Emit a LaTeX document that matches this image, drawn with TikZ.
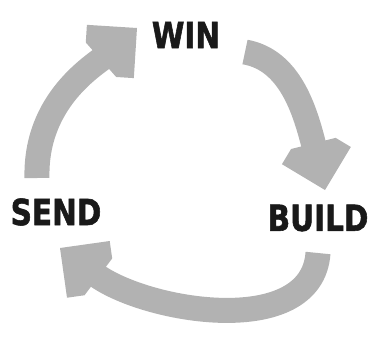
\documentclass[tikz,border=0pt]{standalone}
\usepackage{fontspec}
\newfontfamily\stagefont{DejaVu Sans}[UprightFont=* Bold, FakeStretch=0.82, FakeBold=1.5]
\usepackage{tikz}
\usetikzlibrary{arrows.meta}

\pgfdeclarearrow{
	name = Blunt,
	parameters = {\the\pgfarrowlength,\the\pgfarrowwidth},
	setup code = {
		\pgfarrowssettipend{0pt}
		\pgfarrowssetlineend{-.9\pgfarrowlength}
		\pgfarrowssetbackend{-\pgfarrowlength}
		\pgfarrowssetvisualbackend{-\pgfarrowlength}
		\pgfarrowshullpoint{0pt}{0pt}
		\pgfarrowsupperhullpoint{-.5\pgfarrowwidth}{.5\pgfarrowwidth}
		\pgfarrowssavethe\pgfarrowlength
		\pgfarrowssavethe\pgfarrowwidth
	},
	drawing code = {
		\pgfpathmoveto{\pgfpoint{0pt}{0pt}}
		\pgfpathlineto{\pgfpoint{-.5\pgfarrowwidth}{.5\pgfarrowwidth}}
		\pgfpathlineto{\pgfpoint{-\pgfarrowlength}{\pgfarrowwidth-\pgfarrowlength}}
		\pgfpathlineto{\pgfpoint{-\pgfarrowlength}{\pgfarrowlength-\pgfarrowwidth}}
		\pgfpathlineto{\pgfpoint{-.5\pgfarrowwidth}{-.5\pgfarrowwidth}}
		\pgfpathclose
		\pgfusepathqfill
	},
	defaults = {length=48pt, width=71pt}
}

\begin{document}
\begin{tikzpicture}[x=1pt, y=-1pt,
		stage/.style={font=\stagefont\fontsize{36}{36}\selectfont, text=black!90, inner sep=0pt},
		cycle arrow/.style={draw=gray!60, line width=25pt, -{Blunt}}]
		\useasboundingbox (0,0) rectangle (382,338);

		\node[stage] (win) at (186,35) {WIN};
		\node[stage] (build) at (318,218) {BUILD};
		\node[stage] (send) at (56,212) {SEND};

		\coordinate (send out) at (37,178);
		\coordinate (win in) at (137,28);
		\coordinate (win out) at (245,52);
		\coordinate (build in) at (325,190);
		\coordinate (build out) at (318,253);
		\coordinate (send in) at (60,248);

		\draw[cycle arrow] (send out) .. controls (35,100) and (95,65) .. (win in);
		\draw[cycle arrow] (win out) .. controls (290,60) and (305,110) .. (build in);
		\draw[cycle arrow] (build out) .. controls (312,340) and (145,312) .. (send in);
	\end{tikzpicture}
\end{document}
